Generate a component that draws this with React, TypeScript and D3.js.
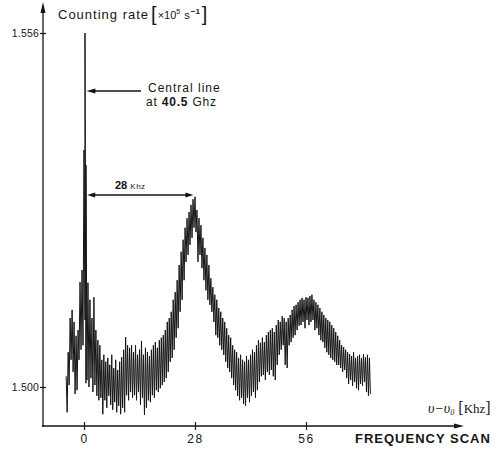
import React, { useEffect, useRef } from 'react';
import * as d3 from 'd3';

// frequency offset from the central line, kHz
const FREQ = [
  -4.5, -4, -3.5, -3, -2.5, -2, -1.5, -1, -0.5, 0, 0.25,
  0.5, 1, 1.5, 2, 2.5, 3, 3.5, 4, 4.5, 5, 5.5, 6, 6.5, 7, 7.5, 8, 8.5, 9, 9.5, 10,
  10.5, 11, 11.5, 12, 12.5, 13, 13.5, 14, 14.5, 15, 15.5, 16, 16.5, 17, 17.5, 18, 18.5, 19, 19.5, 20,
  20.5, 21, 21.5, 22, 22.5, 23, 23.5, 24, 24.5, 25, 25.5, 26, 26.5, 27, 27.5, 28, 28.5, 29, 29.5, 30,
  30.5, 31, 31.5, 32, 32.5, 33, 33.5, 34, 34.5, 35, 35.5, 36, 36.5, 37, 37.5, 38, 38.5, 39, 39.5, 40,
  40.5, 41, 41.5, 42, 42.5, 43, 43.5, 44, 44.5, 45, 45.5, 46, 46.5, 47, 47.5, 48, 48.5, 49, 49.5, 50,
  50.5, 51, 51.5, 52, 52.5, 53, 53.5, 54, 54.5, 55, 55.5, 56, 56.5, 57, 57.5, 58, 58.5, 59, 59.5, 60,
  60.5, 61, 61.5, 62, 62.5, 63, 63.5, 64, 64.5, 65, 65.5, 66, 66.5, 67, 67.5, 68, 68.5, 69, 69.5, 70,
  70.5, 71, 71.5, 72,
];

// upper edge of the noisy trace (x10^5 s^-1)
const HIGH = [
  1.5017, 1.5055, 1.5109, 1.5122, 1.5103, 1.5081, 1.5090, 1.5166, 1.5185, 1.5375, 1.5560,
  1.5351, 1.5165, 1.5138, 1.5109, 1.5142, 1.5090, 1.5074, 1.5066, 1.5043, 1.5051, 1.5040, 1.5046, 1.5035, 1.5051, 1.5030, 1.5043, 1.5027, 1.5040, 1.5047, 1.5059,
  1.5079, 1.5066, 1.5062, 1.5066, 1.5055, 1.5066, 1.5051, 1.5059, 1.5073, 1.5051, 1.5062, 1.5055, 1.5049, 1.5059, 1.5066, 1.5071, 1.5062, 1.5074, 1.5078, 1.5082,
  1.5090, 1.5103, 1.5109, 1.5119, 1.5138, 1.5150, 1.5169, 1.5193, 1.5214, 1.5233, 1.5252, 1.5267, 1.5277, 1.5288, 1.5297, 1.5301, 1.5280, 1.5267, 1.5256, 1.5236,
  1.5220, 1.5209, 1.5193, 1.5172, 1.5158, 1.5146, 1.5138, 1.5125, 1.5119, 1.5109, 1.5103, 1.5093, 1.5082, 1.5078, 1.5066, 1.5059, 1.5055, 1.5046, 1.5051, 1.5043,
  1.5040, 1.5049, 1.5043, 1.5051, 1.5059, 1.5055, 1.5066, 1.5074, 1.5070, 1.5078, 1.5071, 1.5082, 1.5087, 1.5090, 1.5093, 1.5087, 1.5098, 1.5106, 1.5103, 1.5112,
  1.5109, 1.5103, 1.5109, 1.5114, 1.5122, 1.5128, 1.5130, 1.5134, 1.5138, 1.5141, 1.5138, 1.5142, 1.5141, 1.5144, 1.5146, 1.5138, 1.5134, 1.5130, 1.5125, 1.5119,
  1.5114, 1.5109, 1.5106, 1.5103, 1.5098, 1.5093, 1.5087, 1.5081, 1.5074, 1.5066, 1.5063, 1.5059, 1.5055, 1.5052, 1.5049, 1.5055, 1.5046, 1.5049, 1.5051, 1.5046,
  1.5052, 1.5047, 1.5051, 1.5046,
];

// lower edge of the noisy trace (x10^5 s^-1)
const LOW = [
  1.4960, 1.5003, 1.5043, 1.5024, 1.4989, 1.4995, 1.5043, 1.5059, 1.5066, 1.5106, 1.5006,
  1.5011, 1.5000, 1.5014, 1.4992, 1.5003, 1.4986, 1.4979, 1.4983, 1.4957, 1.4979, 1.4967, 1.4986, 1.4972, 1.4964, 1.4976, 1.4960, 1.4970, 1.4957, 1.4967, 1.4960,
  1.4987, 1.4979, 1.4992, 1.4983, 1.4987, 1.4979, 1.4992, 1.4972, 1.4983, 1.4956, 1.4967, 1.4979, 1.4976, 1.4987, 1.4983, 1.4995, 1.4992, 1.4998, 1.5003, 1.5008,
  1.5014, 1.5024, 1.5040, 1.5046, 1.5059, 1.5078, 1.5093, 1.5119, 1.5138, 1.5169, 1.5198, 1.5209, 1.5225, 1.5236, 1.5252, 1.5245, 1.5198, 1.5209, 1.5188, 1.5169,
  1.5153, 1.5138, 1.5130, 1.5119, 1.5103, 1.5082, 1.5078, 1.5066, 1.5059, 1.5051, 1.5040, 1.5030, 1.5024, 1.5014, 1.5003, 1.4995, 1.4986, 1.4979, 1.4983, 1.4973,
  1.4970, 1.4983, 1.4976, 1.4986, 1.4992, 1.4983, 1.4995, 1.5008, 1.5017, 1.5019, 1.5011, 1.5024, 1.5019, 1.5027, 1.5017, 1.5011, 1.5035, 1.5051, 1.5059, 1.5066,
  1.5035, 1.5030, 1.5066, 1.5071, 1.5078, 1.5082, 1.5090, 1.5097, 1.5098, 1.5103, 1.5093, 1.5106, 1.5098, 1.5103, 1.5106, 1.5090, 1.5093, 1.5082, 1.5074, 1.5071,
  1.5062, 1.5055, 1.5051, 1.5046, 1.5043, 1.5040, 1.5035, 1.5035, 1.5030, 1.5024, 1.5027, 1.5014, 1.5005, 1.5011, 1.5002, 1.5008, 1.4998, 1.4995, 1.5005, 1.5002,
  1.5008, 1.4992, 1.4986, 1.4989,
];

const X_TICKS = [0, 28, 56];
const Y_TICKS = [1.5, 1.556];
const Y_TICK_LABELS = ['1.500', '1.556'];

const INK = '#151515';
const SANS = '"Liberation Sans", Arial, sans-serif';
const SERIF = '"Liberation Serif", "DejaVu Serif", serif';

export default function App() {
  const svgRef = useRef<SVGSVGElement>(null);

  useEffect(() => {
    const svgEl = svgRef.current;
    if (!svgEl) return;
    const svg = d3.select(svgEl);
    svg.selectAll('*').remove();

    const x = d3.scaleLinear().domain([0, 28]).range([84, 195]);
    const y = d3.scaleLinear().domain([1.5, 1.556]).range([387, 33]);
    const axisY = 426;
    const axisX = 43;

    // trace: zigzag between upper and lower edge, lower point a quarter step later
    const pts: [number, number][] = [];
    FREQ.forEach((f, i) => {
      pts.push([f, HIGH[i]], [f + 0.25, LOW[i]]);
    });
    const line = d3
      .line<[number, number]>()
      .x(d => x(d[0]))
      .y(d => y(d[1]));
    svg
      .append('path')
      .attr('d', line(pts))
      .attr('fill', 'none')
      .attr('stroke', INK)
      .attr('stroke-width', 1)
      .attr('stroke-linejoin', 'bevel');

    // X axis
    svg
      .append('line')
      .attr('x1', axisX - 1)
      .attr('x2', 458)
      .attr('y1', axisY)
      .attr('y2', axisY)
      .attr('stroke', INK)
      .attr('stroke-width', 1.3);
    svg
      .append('polygon')
      .attr('points', `464,${axisY} 454,${axisY - 2.5} 454,${axisY + 2.5}`)
      .attr('fill', INK);

    const gx = svg
      .append('g')
      .attr('transform', `translate(0,${axisY})`)
      .call(d3.axisBottom(x).tickValues(X_TICKS).tickSize(4).tickPadding(4).tickFormat(d3.format('d')));
    gx.select('.domain').remove();
    gx.selectAll('.tick line').attr('y1', -4).attr('y2', 4).attr('stroke', INK).attr('stroke-width', 1.2);
    gx.selectAll('.tick text')
      .attr('fill', INK)
      .attr('font-family', SANS)
      .attr('font-size', 12)
      .attr('letter-spacing', 1.5);

    // Y axis
    svg
      .append('line')
      .attr('x1', axisX)
      .attr('x2', axisX)
      .attr('y1', axisY + 1)
      .attr('y2', 10)
      .attr('stroke', INK)
      .attr('stroke-width', 1.3);
    svg
      .append('polygon')
      .attr('points', `${axisX},2 ${axisX - 2.5},13 ${axisX + 2.5},13`)
      .attr('fill', INK);

    const gy = svg
      .append('g')
      .attr('transform', `translate(${axisX},0)`)
      .call(
        d3
          .axisLeft(y)
          .tickValues(Y_TICKS)
          .tickSize(3)
          .tickPadding(1)
          .tickFormat((_d, i) => Y_TICK_LABELS[i])
      );
    gy.select('.domain').remove();
    gy.selectAll('.tick line').attr('x1', -3).attr('x2', 3).attr('stroke', INK).attr('stroke-width', 1.2);
    gy.selectAll('.tick text')
      .attr('fill', INK)
      .attr('font-family', SANS)
      .attr('font-size', 10.5)
      .attr('letter-spacing', 0.2);

    // Y axis title
    const yt = svg
      .append('text')
      .attr('x', 58)
      .attr('y', 19)
      .attr('fill', INK)
      .attr('font-family', SANS)
      .attr('font-size', 13)
      .attr('letter-spacing', 1);
    yt.append('tspan').text('Counting rate');
    yt.append('tspan').attr('font-size', 20).attr('dx', 2).attr('dy', 2).attr('font-weight', 300).text('[');
    yt.append('tspan').attr('font-size', 11).attr('dy', -2).attr('letter-spacing', 0).text('×10');
    yt.append('tspan').attr('font-size', 7).attr('dy', -5).text('5');
    yt.append('tspan').attr('font-size', 11).attr('dx', 3).attr('dy', 5).text('s');
    yt.append('tspan').attr('font-size', 8).attr('dy', -5).attr('font-weight', 'bold').attr('letter-spacing', 0).text('−1');
    yt.append('tspan').attr('font-size', 20).attr('dx', 2).attr('dy', 7).attr('font-weight', 300).text(']');

    // Central line annotation
    svg
      .append('line')
      .attr('x1', x(1.6))
      .attr('x2', 141)
      .attr('y1', 91)
      .attr('y2', 91)
      .attr('stroke', INK)
      .attr('stroke-width', 1.3);
    svg
      .append('polygon')
      .attr('points', `${x(0.6)},91 ${x(0.6) + 9},88.5 ${x(0.6) + 9},93.5`)
      .attr('fill', INK);
    svg
      .append('text')
      .attr('x', 148)
      .attr('y', 92)
      .attr('fill', INK)
      .attr('font-family', SANS)
      .attr('font-size', 12)
      .attr('letter-spacing', 1)
      .text('Central  line');
    const at = svg
      .append('text')
      .attr('x', 146)
      .attr('y', 106)
      .attr('fill', INK)
      .attr('font-family', SANS)
      .attr('font-size', 12)
      .attr('letter-spacing', 0.8);
    at.append('tspan').text('at ');
    at.append('tspan').attr('font-weight', 'bold').text('40.5');
    at.append('tspan').text(' Ghz');

    // 28 kHz spacing annotation
    const ay = 195;
    const xl = x(0.8);
    const xr = x(27.6);
    svg
      .append('line')
      .attr('x1', xl + 4)
      .attr('x2', xr - 4)
      .attr('y1', ay)
      .attr('y2', ay)
      .attr('stroke', INK)
      .attr('stroke-width', 1.3);
    svg.append('polygon').attr('points', `${xl},${ay} ${xl + 8},${ay - 2.5} ${xl + 8},${ay + 2.5}`).attr('fill', INK);
    svg.append('polygon').attr('points', `${xr},${ay} ${xr - 8},${ay - 2.5} ${xr - 8},${ay + 2.5}`).attr('fill', INK);
    const kt = svg
      .append('text')
      .attr('x', 115)
      .attr('y', 189)
      .attr('fill', INK)
      .attr('font-family', SANS);
    kt.append('tspan').attr('font-size', 11).attr('font-weight', 'bold').text('28 ');
    kt.append('tspan').attr('font-size', 8).attr('letter-spacing', 0.5).text('Khz');

    // X axis titles
    const xt = svg
      .append('text')
      .attr('x', 428)
      .attr('y', 413)
      .attr('fill', INK)
      .attr('font-family', SERIF)
      .attr('font-size', 14);
    xt.append('tspan').attr('font-style', 'italic').text('υ−υ');
    xt.append('tspan').attr('font-style', 'italic').attr('font-size', 8).attr('dy', 2).text('0');
    xt.append('tspan').attr('dx', 4).attr('dy', -2).attr('font-size', 16).text('[');
    xt.append('tspan').attr('font-size', 13).text('Khz');
    xt.append('tspan').attr('font-size', 16).text(']');

    svg
      .append('text')
      .attr('x', 355)
      .attr('y', 443)
      .attr('fill', INK)
      .attr('font-family', SANS)
      .attr('font-weight', 'bold')
      .attr('font-size', 13)
      .attr('letter-spacing', 1)
      .text('FREQUENCY SCAN');
  }, []);

  return (
    <svg
      ref={svgRef}
      width={503}
      height={450}
      style={{ position: 'absolute', left: 0, top: 0, background: '#fff', display: 'block' }}
    />
  );
}
